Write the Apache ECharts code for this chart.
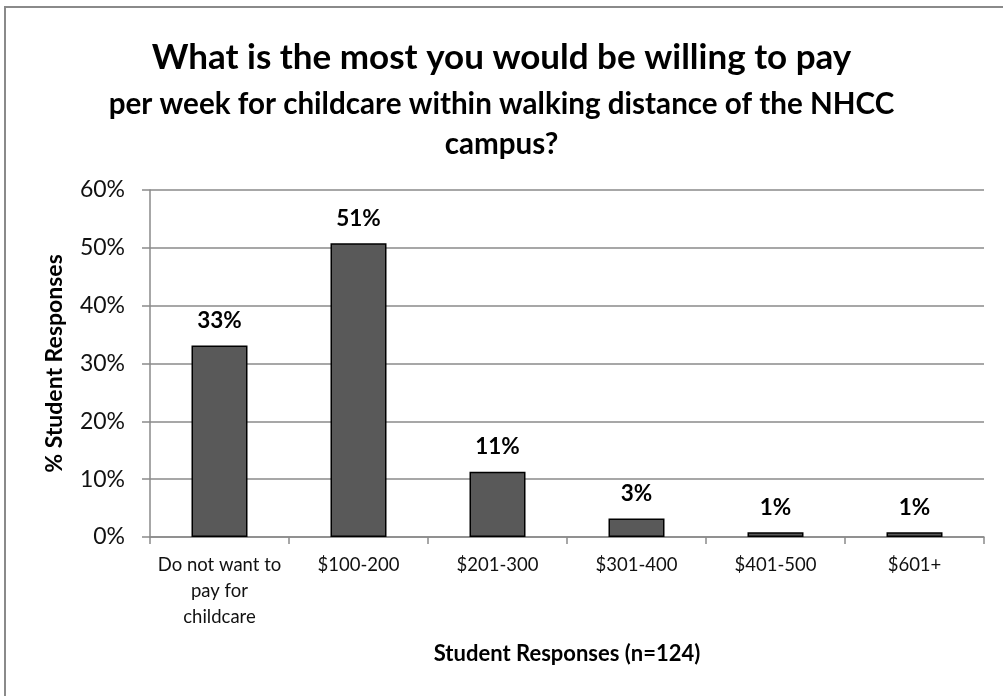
<!DOCTYPE html>
<html>
<head>
<meta charset="utf-8">
<script src="https://cdn.jsdelivr.net/npm/echarts@6/dist/echarts.min.js"></script>
<style>
  html, body { margin: 0; padding: 0; background: #fff; }
  #chart { width: 1003px; height: 696px; }
</style>
</head>
<body>
<div id="chart"></div>
<script>
// Weekly childcare budget survey, share of students per price band
const categories = ['Do not want to\npay for\nchildcare', '$100-200', '$201-300', '$301-400', '$401-500', '$601+'];
const shares = [33.1, 50.8, 11.3, 3.2, 0.8, 0.8];
const yTicks = [0, 10, 20, 30, 40, 50, 60];

const titleLine1 = 'What is the most you would be willing to pay';
const titleRest = 'per week for childcare within walking distance of the NHCC\ncampus?';

const FONT = 'Lato, "Open Sans", sans-serif';
const chart = echarts.init(document.getElementById('chart'));

chart.setOption({
  backgroundColor: '#fff',
  animation: false,
  graphic: [{
    type: 'rect',
    shape: { x: 5, y: 7, width: 1010, height: 700 },
    style: { fill: 'none', stroke: '#8a8a8a', lineWidth: 2 },
    silent: true
  }],
  title: [{
    text: titleLine1,
    left: 'center',
    top: 35,
    textStyle: { fontFamily: FONT, fontSize: 35, fontWeight: 'bold', color: '#000' }
  }, {
    text: titleRest,
    left: 'center',
    top: 79,
    textStyle: { fontFamily: FONT, fontSize: 29.6, fontWeight: 'bold', color: '#000', lineHeight: 40 }
  }],
  grid: { left: 150, right: 19, top: 190, bottom: 159 },
  xAxis: {
    type: 'category',
    data: categories,
    name: 'Student Responses (n=124)',
    nameLocation: 'middle',
    nameGap: 106,
    nameTextStyle: { fontFamily: FONT, fontSize: 22, fontWeight: 'bold', color: '#000' },
    axisLine: { lineStyle: { color: '#8a8a8a', width: 1.5 } },
    axisTick: { show: true, length: 7, lineStyle: { color: '#8a8a8a', width: 1.5 } },
    axisLabel: { interval: 0, fontFamily: FONT, fontSize: 18.5, color: '#111', lineHeight: 26, margin: 15 }
  },
  yAxis: {
    type: 'value',
    min: yTicks[0],
    max: yTicks[yTicks.length - 1],
    interval: 10,
    name: '% Student Responses',
    nameLocation: 'middle',
    nameGap: 84,
    nameTextStyle: { fontFamily: FONT, fontSize: 23, fontWeight: 'bold', color: '#000' },
    axisLine: { show: true, lineStyle: { color: '#8a8a8a', width: 1.5 } },
    axisTick: { show: true, length: 8, lineStyle: { color: '#8a8a8a', width: 1.5 } },
    splitLine: { lineStyle: { color: '#8a8a8a', width: 1.5 } },
    axisLabel: { fontFamily: FONT, fontSize: 23, color: '#111', margin: 25, formatter: '{value}%' }
  },
  series: [{
    type: 'bar',
    data: shares,
    barWidth: 56,
    itemStyle: { color: '#595959', borderColor: '#000', borderWidth: 1.5 },
    label: {
      show: true,
      position: 'top',
      distance: 13,
      fontFamily: FONT,
      fontSize: 22.5,
      fontWeight: 'bold',
      color: '#000',
      formatter: p => Math.round(p.value) + '%'
    }
  }]
});
</script>
</body>
</html>
